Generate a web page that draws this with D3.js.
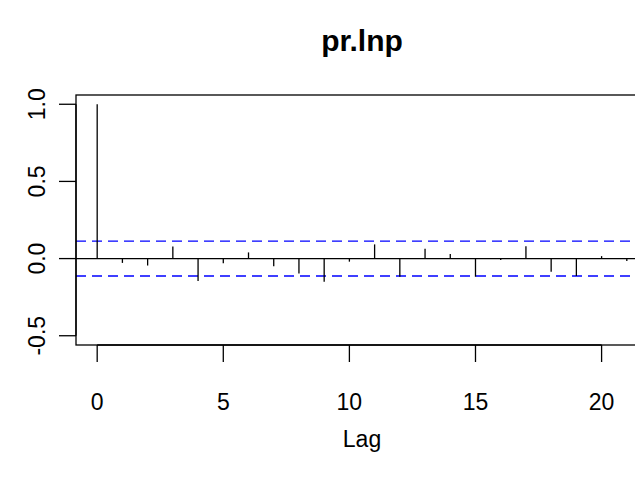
<!DOCTYPE html>
<html>
<head>
<meta charset="utf-8">
<script src="https://cdn.jsdelivr.net/npm/d3@7"></script>
<style>
  body { margin: 0; background: #fff; }
  svg { display: block; font-family: "Liberation Sans", Arial, sans-serif; }
</style>
</head>
<body>
<script>
// autocorrelation of pr.lnp
var lags = [0, 1, 2, 3, 4, 5, 6, 7, 8, 9, 10, 11, 12, 13, 14, 15, 16, 17, 18, 19, 20, 21];
var acfVals = [1, -0.028, -0.045, 0.079, -0.145, -0.03, 0.04, -0.05, -0.096, -0.15, -0.02,
               0.092, -0.118, 0.064, 0.029, -0.118, -0.01, 0.08, -0.085, -0.113, 0.016, -0.015];
var ciBound = 0.113;
var xTicks = [0, 5, 10, 15, 20];
var yTicks = [-0.5, 0, 0.5, 1];
var yLim = [-0.5, 1];

var width = 635, height = 478;
// note: "top" is taken by window.top, so use m* names
var mLeft = 76, mRight = 648, mTop = 95, mBottom = 345;

// R style 4% padding on both axes
var xExt = (d3.max(lags) - d3.min(lags)) * 0.04;
var yExt = (yLim[1] - yLim[0]) * 0.04;

var x = d3.scaleLinear()
    .domain([d3.min(lags) - xExt, d3.max(lags) + xExt])
    .range([mLeft, mRight]);
var y = d3.scaleLinear()
    .domain([yLim[0] - yExt, yLim[1] + yExt])
    .range([mBottom, mTop]);

// R prints a plain hyphen, not the unicode minus
var fmtY = d => d3.format(".1f")(d).replace("\u2212", "-");

var svg = d3.select("body").append("svg")
    .attr("width", width)
    .attr("height", height);

svg.append("clipPath").attr("id", "plotclip")
  .append("rect")
    .attr("x", mLeft).attr("y", mTop)
    .attr("width", mRight - mLeft).attr("height", mBottom - mTop);

var plot = svg.append("g").attr("clip-path", "url(#plotclip)");

// zero line
plot.append("line")
    .attr("x1", mLeft).attr("x2", mRight)
    .attr("y1", y(0)).attr("y2", y(0))
    .attr("stroke", "#000")
    .attr("stroke-width", 1.2);

// confidence bounds
plot.selectAll("line.ci")
  .data([ciBound, -ciBound])
  .join("line")
    .attr("class", "ci")
    .attr("x1", mLeft).attr("x2", mRight)
    .attr("y1", d => y(d)).attr("y2", d => y(d))
    .attr("stroke", "#0000ff")
    .attr("stroke-width", 1.4)
    .attr("stroke-dasharray", "10,6");

// spikes
plot.selectAll("line.spike")
  .data(lags)
  .join("line")
    .attr("class", "spike")
    .attr("x1", d => x(d)).attr("x2", d => x(d))
    .attr("y1", y(0))
    .attr("y2", (d, i) => y(acfVals[i]))
    .attr("stroke", "#000")
    .attr("stroke-width", 1.3);

// box
svg.append("rect")
    .attr("x", mLeft).attr("y", mTop)
    .attr("width", mRight - mLeft).attr("height", mBottom - mTop)
    .attr("fill", "none")
    .attr("stroke", "#000")
    .attr("stroke-width", 1.3);

// x axis
var xAxis = svg.append("g").attr("transform", `translate(0,${mBottom})`);
xAxis.append("line")
    .attr("x1", x(xTicks[0])).attr("x2", x(xTicks[xTicks.length - 1]))
    .attr("stroke", "#000").attr("stroke-width", 1.3);
xAxis.selectAll("line.tick")
  .data(xTicks)
  .join("line")
    .attr("class", "tick")
    .attr("x1", d => x(d)).attr("x2", d => x(d))
    .attr("y1", 0).attr("y2", 17)
    .attr("stroke", "#000").attr("stroke-width", 1.3);
xAxis.selectAll("text")
  .data(xTicks)
  .join("text")
    .attr("x", d => x(d))
    .attr("y", 65)
    .attr("text-anchor", "middle")
    .style("font-size", "23px")
    .text(d => d);

// y axis
var yAxis = svg.append("g").attr("transform", `translate(${mLeft},0)`);
yAxis.append("line")
    .attr("y1", y(yTicks[0])).attr("y2", y(yTicks[yTicks.length - 1]))
    .attr("stroke", "#000").attr("stroke-width", 1.3);
yAxis.selectAll("line.tick")
  .data(yTicks)
  .join("line")
    .attr("class", "tick")
    .attr("y1", d => y(d)).attr("y2", d => y(d))
    .attr("x1", 0).attr("x2", -17)
    .attr("stroke", "#000").attr("stroke-width", 1.3);
yAxis.selectAll("text")
  .data(yTicks)
  .join("text")
    .attr("transform", d => `translate(-31,${y(d)}) rotate(-90)`)
    .attr("text-anchor", "middle")
    .style("font-size", "23px")
    .text(fmtY);

// labels
svg.append("text")
    .attr("x", (mLeft + mRight) / 2)
    .attr("y", 447)
    .attr("text-anchor", "middle")
    .style("font-size", "23px")
    .text("Lag");

svg.append("text")
    .attr("x", (mLeft + mRight) / 2)
    .attr("y", 51)
    .attr("text-anchor", "middle")
    .style("font-size", "30px")
    .style("font-weight", "bold")
    .text("pr.lnp");
</script>
</body>
</html>
